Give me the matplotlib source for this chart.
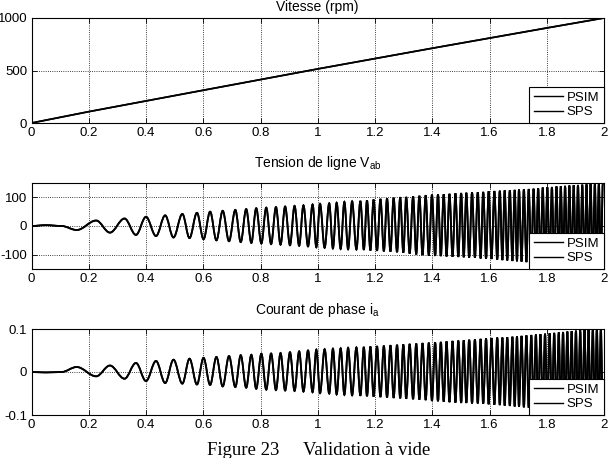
"""Validation a vide: vitesse, tension de ligne et courant de phase (PSIM vs SPS)."""

import matplotlib

matplotlib.use("Agg")
import matplotlib.pyplot as plt
from matplotlib.lines import Line2D
from matplotlib.patches import PathPatch
from matplotlib.path import Path

# --- data ---------------------------------------------------------------------
x_ticks = [0, 0.2, 0.4, 0.6, 0.8, 1.0, 1.2, 1.4, 1.6, 1.8, 2.0]
x_tick_labels = ["0", "0.2", "0.4", "0.6", "0.8", "1", "1.2", "1.4", "1.6", "1.8", "2"]
series_labels = ["PSIM", "SPS"]

speed_t = [0.0, 0.2, 0.6, 1.0, 1.4, 1.8, 2.0]
speed_rpm = [0, 108, 312, 515, 712, 905, 1000]
speed_ticks = [0, 500, 1000]
speed_tick_labels = ["0", "500", "1000"]

# extrema of the oscillations (same instants for V_ab and i_a)
wave_t = [
    0.000, 0.050, 0.105, 0.158, 0.226, 0.274, 0.325, 0.365, 0.400, 0.435,
    0.467, 0.496, 0.527, 0.552, 0.578, 0.601, 0.624, 0.646, 0.668, 0.690,
    0.712, 0.731, 0.750, 0.768, 0.785, 0.803, 0.820, 0.837, 0.854, 0.870,
    0.886, 0.903, 0.919, 0.935, 0.950, 0.966, 0.982, 0.995, 1.008, 1.024,
    1.040, 1.053, 1.066, 1.080, 1.093, 1.106, 1.120, 1.135, 1.149, 1.161,
    1.172, 1.184, 1.195, 1.207, 1.219, 1.231, 1.242, 1.254, 1.265, 1.277,
    1.288, 1.299, 1.309, 1.321, 1.333, 1.344, 1.355, 1.366, 1.377, 1.388,
    1.399, 1.410, 1.420, 1.430, 1.440, 1.450, 1.460, 1.471, 1.481, 1.491,
    1.501, 1.510, 1.519, 1.529, 1.539, 1.549, 1.559, 1.569, 1.578, 1.588,
    1.597, 1.607, 1.617, 1.627, 1.636, 1.645, 1.653, 1.662, 1.671, 1.680,
    1.688, 1.696, 1.703, 1.712, 1.720, 1.729, 1.737, 1.746, 1.754, 1.762,
    1.770, 1.778, 1.786, 1.794, 1.802, 1.810, 1.818, 1.826, 1.834, 1.842,
    1.849, 1.857, 1.864, 1.872, 1.879, 1.887, 1.894, 1.902, 1.909, 1.917,
    1.924, 1.932, 1.939, 1.946, 1.953, 1.961, 1.968, 1.975, 1.982, 1.989,
    1.996,
]
vab = [
    0, 3, 0, -14, 19, -23, 26, -31, 32, -35,
    37, -40, 42, -42, 46, -46, 50, -50, 53, -53,
    56, -56, 59, -59, 62, -61, 64, -63, 66, -65,
    68, -67, 70, -69, 72, -71, 75, -74, 77, -76,
    79, -78, 81, -80, 84, -81, 86, -82, 87, -83,
    89, -85, 92, -86, 94, -88, 96, -89, 98, -91,
    100, -93, 101, -96, 103, -99, 105, -101, 107, -103,
    109, -104, 110, -105, 111, -106, 112, -107, 114, -108,
    115, -109, 116, -110, 117, -111, 118, -113, 119, -114,
    121, -115, 122, -117, 123, -119, 124, -120, 125, -122,
    126, -123, 127, -124, 128, -126, 129, -127, 130, -128,
    132, -129, 134, -130, 135, -131, 136, -132, 138, -133,
    139, -134, 140, -135, 141, -136, 142, -137, 143, -138,
    144, -139, 145, -140, 146, -141, 147, -142, 148, -143,
    149,
]
ia = [
    0, -0.001, 0, 0.0116, -0.010, 0.015, -0.0156, 0.021, -0.021, 0.0256,
    -0.0256, 0.0286, -0.027, 0.031, -0.029, 0.033, -0.030, 0.035, -0.0335, 0.037,
    -0.035, 0.039, -0.0365, 0.040, -0.039, 0.0426, -0.041, 0.043, -0.042, 0.044,
    -0.043, 0.046, -0.044, 0.048, -0.0455, 0.050, -0.047, 0.052, -0.049, 0.053,
    -0.050, 0.054, -0.052, 0.055, -0.053, 0.056, -0.054, 0.057, -0.055, 0.058,
    -0.056, 0.059, -0.057, 0.060, -0.058, 0.061, -0.059, 0.062, -0.060, 0.063,
    -0.061, 0.064, -0.062, 0.065, -0.063, 0.066, -0.064, 0.067, -0.065, 0.068,
    -0.067, 0.069, -0.068, 0.070, -0.069, 0.071, -0.070, 0.072, -0.071, 0.073,
    -0.072, 0.074, -0.072, 0.075, -0.073, 0.076, -0.073, 0.077, -0.074, 0.078,
    -0.075, 0.079, -0.076, 0.080, -0.077, 0.080, -0.078, 0.081, -0.079, 0.082,
    -0.080, 0.083, -0.081, 0.084, -0.082, 0.085, -0.083, 0.086, -0.085, 0.087,
    -0.086, 0.088, -0.087, 0.089, -0.088, 0.090, -0.089, 0.091, -0.090, 0.092,
    -0.091, 0.093, -0.092, 0.094, -0.093, 0.095, -0.094, 0.096, -0.095, 0.097,
    -0.096, 0.098, -0.097, 0.099, -0.098, 0.100, -0.099, 0.100, -0.100, 0.100,
    -0.100,
]
vab_ticks = [-100, 0, 100]
vab_tick_labels = ["-100", "0", "100"]
ia_ticks = [-0.1, 0, 0.1]
ia_tick_labels = ["-0.1", "0", "0.1"]

W, H = 613, 458


def configure_style() -> None:
    plt.rcParams.update(
        {
            "font.family": ["Liberation Sans", "DejaVu Sans"],
            "font.size": 9.5,
            "axes.unicode_minus": False,
            "mathtext.default": "regular",
            "axes.linewidth": 0.8,
            "axes.edgecolor": "black",
        }
    )


def smooth_path(t, v, k=0.36):
    # cubic segments with flat tangents at every extremum
    verts = [(t[0], v[0])]
    codes = [Path.MOVETO]
    for t0, v0, t1, v1 in zip(t[:-1], v[:-1], t[1:], v[1:]):
        dt = t1 - t0
        verts += [(t0 + k * dt, v0), (t1 - k * dt, v1), (t1, v1)]
        codes += [Path.CURVE4] * 3
    return Path(verts, codes)


def add_axes(fig, top_px, bottom_px):
    left, right = 31.5, 604.0
    return fig.add_axes(
        [left / W, 1 - bottom_px / H, (right - left) / W, (bottom_px - top_px) / H]
    )


def style_axes(ax, yticks, ylabels, ylim, title, pad):
    ax.set_xlim(0, 2)
    ax.set_ylim(*ylim)
    ax.set_xticks(x_ticks, x_tick_labels)
    ax.set_yticks(yticks, ylabels)
    ax.tick_params(direction="in", top=True, right=True, length=3.5, width=0.6,
                   labelsize=9.5, pad=3)
    ax.grid(True, linestyle=":", color="black", linewidth=0.6)
    ax.set_title(title, fontsize=10, pad=pad)
    handles = [Line2D([], [], color="black", lw=1.0) for _ in series_labels]
    leg = ax.legend(handles, series_labels, loc="lower right", borderaxespad=0,
                    fancybox=False, framealpha=1, edgecolor="black", fontsize=9.5,
                    handlelength=2.2, handletextpad=0.3, borderpad=0.35,
                    labelspacing=0.2)
    leg.get_frame().set_linewidth(0.8)
    leg.set_zorder(10)


def main() -> None:
    configure_style()
    fig = plt.figure(figsize=(W / 100, H / 100), dpi=100)

    ax1 = add_axes(fig, 18, 123)
    for _ in series_labels:
        ax1.plot(speed_t, speed_rpm, color="black", lw=1.2)
    style_axes(ax1, speed_ticks, speed_tick_labels, (0, 1000), "Vitesse (rpm)", 5)

    ax2 = add_axes(fig, 183, 269)
    for _ in series_labels:
        ax2.add_patch(PathPatch(smooth_path(wave_t, vab), facecolor="none",
                                edgecolor="black", lw=1.3))
    style_axes(ax2, vab_ticks, vab_tick_labels, (-150, 150),
               "Tension de ligne V$_{ab}$", 11.5)

    ax3 = add_axes(fig, 329, 415)
    for _ in series_labels:
        ax3.add_patch(PathPatch(smooth_path(wave_t, ia), facecolor="none",
                                edgecolor="black", lw=1.3))
    style_axes(ax3, ia_ticks, ia_tick_labels, (-0.1, 0.1),
               "Courant de phase i$_a$", 10.5)

    serif = ["Liberation Serif", "DejaVu Serif"]
    fig.text(207 / W, 1 - 455 / H, "Figure 23", family=serif, fontsize=13.5,
             va="baseline")
    fig.text(303 / W, 1 - 455 / H, "Validation à vide", family=serif,
             fontsize=13.5, va="baseline")

    fig.savefig("out.png", dpi=100)
    plt.close(fig)


if __name__ == "__main__":
    main()
